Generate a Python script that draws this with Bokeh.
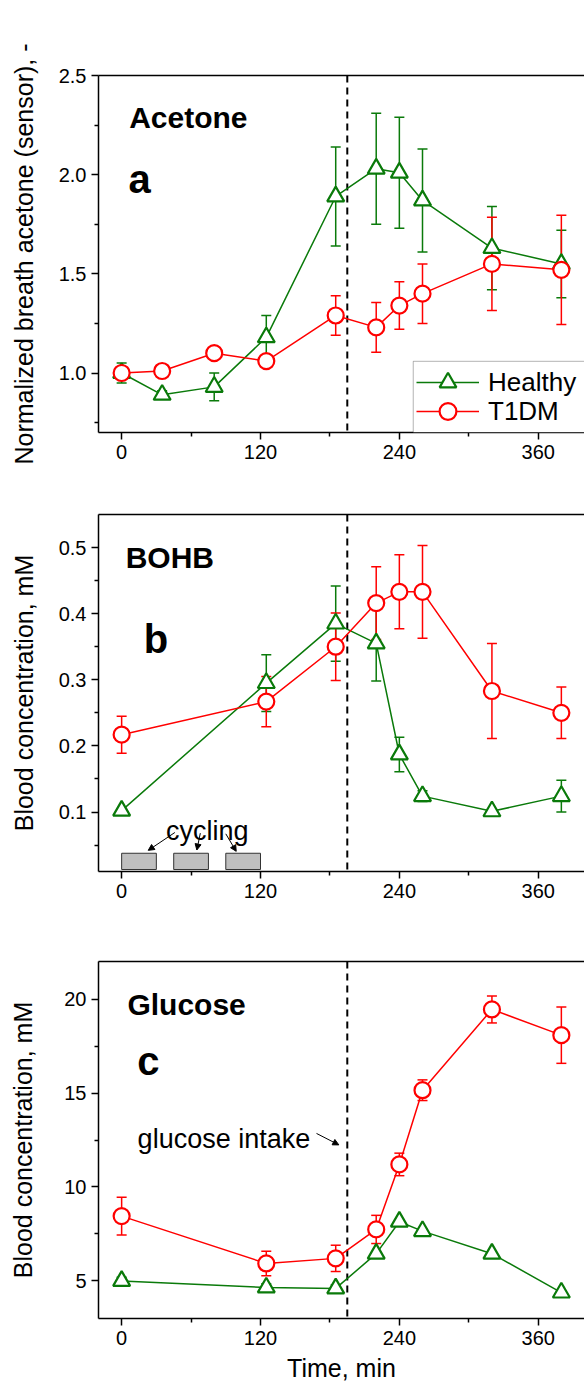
from bokeh.plotting import figure
from bokeh.models import (ColumnDataSource, Range1d, FixedTicker, LinearAxis, Span, Whisker,
                          TeeHead, Legend, LegendItem, Label, Arrow, NormalHead, BoxAnnotation,
                          PrintfTickFormatter)
from bokeh.layouts import column
from bokeh.embed import file_html
from bokeh.resources import INLINE

# ---------------- data ----------------
x_limits = [-20, 400]
x_ticks = [0, 120, 240, 360]
x_minor = [60, 180, 300]
intake_time = 195

# panel a: normalized breath acetone
acetone_time = [0, 35, 80, 125, 185, 220, 240, 260, 320, 380]
acetone_healthy = [1.00, 0.89, 0.93, 1.18, 1.89, 2.03, 2.01, 1.87, 1.63, 1.55]
acetone_healthy_err = [0.05, 0.02, 0.07, 0.11, 0.25, 0.28, 0.28, 0.26, 0.21, 0.17]
acetone_t1dm = [1.00, 1.01, 1.10, 1.06, 1.29, 1.23, 1.34, 1.40, 1.55, 1.52]
acetone_t1dm_err = [0.02, 0.02, 0.03, 0.02, 0.10, 0.125, 0.12, 0.15, 0.235, 0.275]

# panel b: blood BOHB
blood_time = [0, 125, 185, 220, 240, 260, 320, 380]
bohb_healthy = [0.102, 0.295, 0.385, 0.355, 0.187, 0.124, 0.101, 0.124]
bohb_healthy_err = [0.003, 0.043, 0.057, 0.057, 0.026, 0.008, 0.003, 0.024]
bohb_t1dm = [0.217, 0.267, 0.350, 0.416, 0.433, 0.433, 0.283, 0.250]
bohb_t1dm_err = [0.028, 0.038, 0.051, 0.055, 0.056, 0.070, 0.072, 0.039]

# panel c: blood glucose
glucose_healthy = [5.0, 4.65, 4.6, 6.45, 8.15, 7.65, 6.45, 4.38]
glucose_healthy_err = [0.2, 0.2, 0.2, 0.1, 0.1, 0.1, 0.1, 0.1]
glucose_t1dm = [8.45, 5.93, 6.2, 7.74, 11.2, 15.15, 19.45, 18.08]
glucose_t1dm_err = [1.0, 0.65, 0.7, 0.75, 0.6, 0.55, 0.72, 1.5]

# cycling periods (min)
cycling_start = [0, 45, 90]
cycling_end = [30, 75, 120]

series_names = ["Healthy", "T1DM"]

FONT = "Liberation Sans"
GREEN = "#0a7a0a"
RED = "#ff0000"


def make_panel(height, top, bottom, y_range, yticks, yminor, ylabel, ylabel_standoff,
               xlabel=None, yfmt=None):
    p = figure(width=584, height=height, x_range=Range1d(*x_limits), y_range=Range1d(*y_range),
               min_border_left=98, min_border_right=0, min_border_top=top, min_border_bottom=bottom,
               output_backend="svg", toolbar_location=None)
    p.outline_line_color = None
    p.grid.visible = False
    xa = p.xaxis[0]
    ya = p.yaxis[0]
    xa.ticker = FixedTicker(ticks=x_ticks, minor_ticks=x_minor)
    ya.ticker = FixedTicker(ticks=yticks, minor_ticks=yminor)
    if yfmt:
        ya.formatter = PrintfTickFormatter(format=yfmt)
    for ax in (xa, ya):
        ax.axis_line_width = 1.5
        ax.axis_line_color = "black"
        ax.major_tick_line_width = 1.5
        ax.minor_tick_line_width = 1.5
        ax.major_tick_line_color = "black"
        ax.minor_tick_line_color = "black"
        ax.major_tick_out = 7
        ax.major_tick_in = 0
        ax.minor_tick_out = 4
        ax.minor_tick_in = 0
        ax.major_label_text_font = FONT
        ax.major_label_text_font_size = "20px"
        ax.major_label_text_color = "black"
        ax.major_label_standoff = 5
        ax.axis_label_text_font = FONT
        ax.axis_label_text_font_style = "normal"
        ax.axis_label_text_color = "black"
    ya.axis_label = ylabel
    ya.axis_label_text_font_size = "25px"
    ya.axis_label_standoff = ylabel_standoff
    if xlabel:
        xa.axis_label = xlabel
        xa.axis_label_text_font_size = "25px"
        xa.axis_label_standoff = 6
    top_axis = LinearAxis(ticker=FixedTicker(ticks=[]), major_tick_out=0, minor_tick_out=0,
                          major_label_text_font_size="0px", major_label_standoff=0,
                          axis_line_width=1.5, axis_line_color="black")
    p.add_layout(top_axis, "above")
    p.add_layout(Span(location=intake_time, dimension="height", line_color="black",
                      line_width=2, line_dash="7 5", level="underlay"))
    return p


def add_series(p, t, y, err, color, marker, size):
    src = ColumnDataSource(dict(t=t, y=y,
                                lo=[a - b for a, b in zip(y, err)],
                                hi=[a + b for a, b in zip(y, err)]))
    w = Whisker(source=src, base="t", upper="hi", lower="lo", line_color=color, line_width=1.5,
                level="underlay",
                upper_head=TeeHead(size=10, line_color=color, line_width=1.5),
                lower_head=TeeHead(size=10, line_color=color, line_width=1.5))
    p.add_layout(w)
    lr = p.line("t", "y", source=src, line_color=color, line_width=1.5)
    sr = p.scatter("t", "y", source=src, marker=marker, size=size, fill_color="white",
                   line_color=color, line_width=2.2)
    return lr, sr


def add_text(p, x, y, text, size, bold=False, align="left"):
    p.add_layout(Label(x=x, y=y, text=text, text_font=FONT, text_font_size=size,
                       text_font_style="bold" if bold else "normal", text_color="black",
                       text_align=align, text_baseline="alphabetic"))


# ---------------- panel a ----------------
pa = make_panel(470, 75, 38, (0.7, 2.5), [1.0, 1.5, 2.0, 2.5], [0.75, 1.25, 1.75, 2.25],
                "Normalized breath acetone (sensor), -", 18, yfmt="%.1f")
ha = add_series(pa, acetone_time, acetone_healthy, acetone_healthy_err, GREEN, "triangle", 17)
ta = add_series(pa, acetone_time, acetone_t1dm, acetone_t1dm_err, RED, "circle", 16)
add_text(pa, 6.5, 2.29, "Acetone", "30px", bold=True)
add_text(pa, 6, 1.98, "a", "40px", bold=True)
# legend frame (white box with black border) behind the two legend rows
pa.add_layout(BoxAnnotation(left=252, right=430, bottom=0.7, top=1.059, fill_color="white",
                            fill_alpha=1.0, line_color="black", line_width=1))
for i, (rends, ypos) in enumerate([(ha, 29), (ta, 0)]):
    pa.add_layout(Legend(items=[LegendItem(label=series_names[i], renderers=list(rends))],
                         location=(318, ypos), orientation="vertical", glyph_width=63,
                         glyph_height=42, spacing=0, padding=0, margin=0, label_standoff=9,
                         label_text_font=FONT, label_text_font_size="26px",
                         label_text_color="black", border_line_color=None,
                         background_fill_alpha=0.0))

# ---------------- panel b ----------------
pb = make_panel(437, 44, 36, (0.01, 0.55), [0.1, 0.2, 0.3, 0.4, 0.5],
                [0.05, 0.15, 0.25, 0.35, 0.45], "Blood concentration, mM", 18, yfmt="%.1f")
pb.quad(left=cycling_start, right=cycling_end, bottom=0.013, top=0.0376,
        fill_color="#bfbfbf", line_color="#333333", line_width=1)
add_series(pb, blood_time, bohb_healthy, bohb_healthy_err, GREEN, "triangle", 17)
add_series(pb, blood_time, bohb_t1dm, bohb_t1dm_err, RED, "circle", 16)
add_text(pb, 3.5, 0.485, "BOHB", "30px", bold=True)
add_text(pb, 19, 0.362, "b", "40px", bold=True)
add_text(pb, 74, 0.072, "cycling", "27px", align="center")
cycling_arrows = [(46, 0.069, 23, 0.042), (68, 0.068, 65, 0.0425), (90, 0.067, 99, 0.0405)]
for xs, ys, xe, ye in cycling_arrows:
    pb.add_layout(Arrow(x_start=xs, y_start=ys, x_end=xe, y_end=ye, line_width=1,
                        line_color="black",
                        end=NormalHead(size=6, fill_color="black", line_color="black")))

# ---------------- panel c ----------------
pc = make_panel(481, 54, 70, (3, 22), [5, 10, 15, 20], [7.5, 12.5, 17.5],
                "Blood concentration, mM", 24, xlabel="Time, min")
add_series(pc, blood_time, glucose_healthy, glucose_healthy_err, GREEN, "triangle", 17)
add_series(pc, blood_time, glucose_t1dm, glucose_t1dm_err, RED, "circle", 16)
add_text(pc, 5, 19.73, "Glucose", "30px", bold=True)
add_text(pc, 13.5, 16.68, "c", "40px", bold=True)
add_text(pc, 13.8, 12.55, "glucose intake", "27px")
pc.add_layout(Arrow(x_start=168.4, y_start=12.85, x_end=187.7, y_end=12.24, line_width=1,
                    line_color="black",
                    end=NormalHead(size=6, fill_color="black", line_color="black")))

layout = column(pa, pb, pc, spacing=0)
open("out.html", "w").write(file_html(layout, INLINE))
